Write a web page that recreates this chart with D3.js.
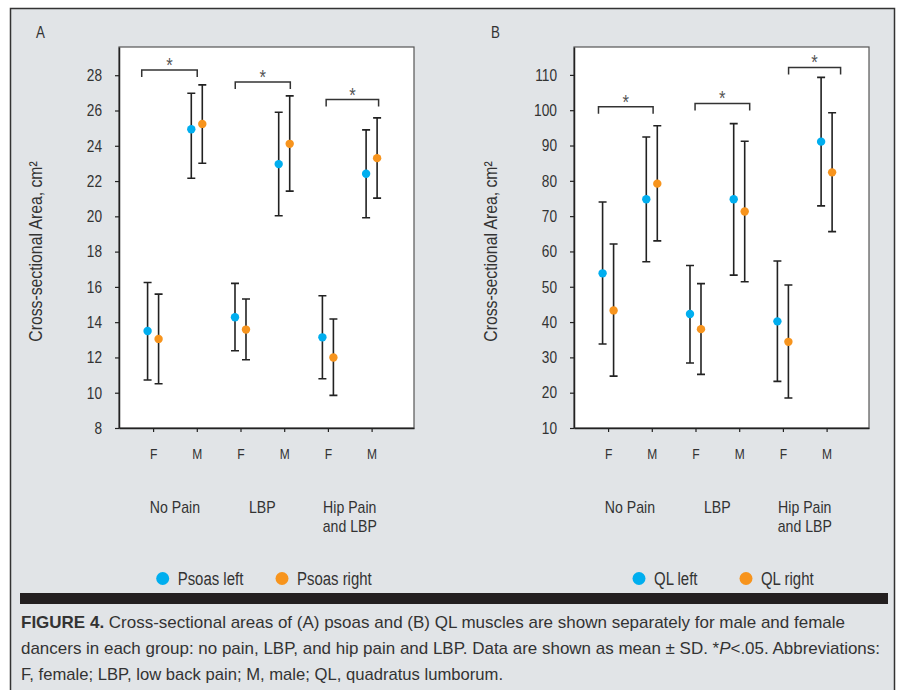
<!DOCTYPE html>
<html>
<head>
<meta charset="utf-8">
<script src="https://cdn.jsdelivr.net/npm/d3@7"></script>
<style>
  body { margin: 0; background: #fff; }
  svg text { font-family: "Liberation Sans", Arial, sans-serif; fill: #333; }
</style>
</head>
<body>
<svg id="fig" width="900" height="690"></svg>
<script>

// x categories (one F and one M per group)
var sexLabels = ["F", "M", "F", "M", "F", "M"];
var groupLabels = [["No Pain"], ["LBP"], ["Hip Pain", "and LBP"]];

// panel A - psoas, cm2 (mean, lower and upper end of the SD bar)
var psoasLeftMean  = [13.5, 24.94, 14.28, 22.96, 13.14, 22.41];
var psoasLeftLow   = [10.72, 22.16, 12.38, 20.03, 10.79, 19.92];
var psoasLeftHigh  = [16.25, 26.98, 16.2, 25.9, 15.5, 24.9];
var psoasRightMean = [13.05, 25.24, 13.58, 24.11, 12.0, 23.3];
var psoasRightLow  = [10.51, 23.01, 11.87, 21.43, 9.85, 21.03];
var psoasRightHigh = [15.59, 27.45, 15.31, 26.83, 14.18, 25.58];
var psoasTicks = [8, 10, 12, 14, 16, 18, 20, 22, 24, 26, 28];
// significance brackets: from/to in category index, level in cm2
var psoasBracketFrom  = [-0.26, 1.88, 3.96];
var psoasBracketTo    = [1.01, 3.14, 5.16];
var psoasBracketLevel = [28.3, 27.62, 26.62];

// panel B - quadratus lumborum, cm2
var qlLeftMean  = [53.8, 74.8, 42.3, 74.8, 40.2, 91.1];
var qlLeftLow   = [33.8, 57.1, 28.4, 53.3, 23.2, 72.9];
var qlLeftHigh  = [74.0, 92.4, 56.0, 96.2, 57.3, 109.3];
var qlRightMean = [43.3, 79.2, 38.0, 71.3, 34.4, 82.4];
var qlRightLow  = [24.7, 63.0, 25.2, 51.4, 18.5, 65.6];
var qlRightHigh = [62.1, 95.6, 50.9, 91.2, 50.5, 99.3];
var qlTicks = [10, 20, 30, 40, 50, 60, 70, 80, 90, 100, 110];
var qlBracketFrom  = [-0.22, 1.99, 4.13];
var qlBracketTo    = [1.03, 3.24, 5.32];
var qlBracketLevel = [101.0, 101.9, 112.1];

var leftColor = "#00aeef", rightColor = "#f7941d";
var plotW = 295, plotH = 381;
var squeeze = 0.83; // condensed look, no narrow font installed

var svg = d3.select("#fig");

// grey figure frame
svg.append("rect")
    .attr("x", 10.5).attr("y", 8.5)
    .attr("width", 884).attr("height", 700)
    .attr("fill", "#e1e4e7")
    .attr("stroke", "#333")
    .attr("stroke-width", 1.5);

function drawPanel(p) {
    var g = svg.append("g").attr("transform", "translate(" + p.left + ",47)");

    var x = d3.scaleLinear().domain([-0.78, 5.97]).range([0, plotW]);
    var y = d3.scaleLinear().domain(p.yDomain).range([plotH, 0]);

    g.append("rect")
        .attr("width", plotW).attr("height", plotH)
        .attr("fill", "#fff")
        .attr("stroke", "#555")
        .attr("stroke-width", 1.2);

    //panel letter
    svg.append("text")
        .attr("x", p.left - 83).attr("y", 38)
        .style("font-size", "16px")
        .text(p.letter);

    var yAxis = g.append("g")
        .call(d3.axisLeft(y).tickValues(p.ticks).tickSize(4).tickSizeOuter(0).tickPadding(13));
    var xAxis = g.append("g")
        .attr("transform", "translate(0," + plotH + ")")
        .call(d3.axisBottom(x).tickValues(d3.range(6))
            .tickFormat(function (i) { return sexLabels[i]; })
            .tickSize(4).tickSizeOuter(0).tickPadding(17));

    [yAxis, xAxis].forEach(function (a) {
        a.select(".domain").attr("stroke", "#222").attr("stroke-width", 1.5);
        a.selectAll(".tick line").attr("stroke", "#222").attr("stroke-width", 1.2);
        a.selectAll("text").attr("fill", "#333").attr("font-family", null);
    });
    yAxis.selectAll("text").style("font-size", "16.5px");
    xAxis.selectAll("text").style("font-size", "14.5px");

    // axis title
    g.append("text")
        .attr("transform", "translate(-77," + (plotH / 2 + 14) + ")rotate(-90)")
        .style("text-anchor", "middle")
        .style("font-size", "19px")
        .text("Cross-sectional Area, cm\u00b2");

    // group names under the F/M ticks
    groupLabels.forEach(function (lines, gi) {
        lines.forEach(function (l, li) {
            g.append("text")
                .attr("x", x(gi * 2 + 0.5))
                .attr("y", 466 + li * 18.5)
                .style("text-anchor", "middle")
                .style("font-size", "17px")
                .text(l);
        });
    });

    // brackets + stars
    p.bracketLevel.forEach(function (lev, i) {
        var x0 = x(p.bracketFrom[i]), x1 = x(p.bracketTo[i]), yy = y(lev);
        g.append("path")
            .attr("d", "M" + x0 + "," + (yy + 7) + "V" + yy + "H" + x1 + "V" + (yy + 7))
            .attr("fill", "none")
            .attr("stroke", "#333")
            .attr("stroke-width", 1.5);
        g.append("text")
            .attr("x", (x0 + x1) / 2).attr("y", yy + 2)
            .style("text-anchor", "middle")
            .style("font-size", "20px")
            .style("fill", "#555")
            .text("*");
    });

    // error bars and means
    p.series.forEach(function (s) {
        var pts = s.mean.map(function (m, i) {
            return { i: i, m: m, lo: s.low[i], hi: s.high[i] };
        });
        var sg = g.append("g");
        var cx = function (d) { return x(d.i) + s.shift; };

        sg.selectAll(".bar").data(pts).enter().append("path")
            .attr("d", function (d) {
                var c = cx(d);
                return "M" + c + "," + y(d.lo) + "V" + y(d.hi) +
                    "M" + (c - 4) + "," + y(d.lo) + "H" + (c + 4) +
                    "M" + (c - 4) + "," + y(d.hi) + "H" + (c + 4);
            })
            .attr("fill", "none")
            .attr("stroke", "#222")
            .attr("stroke-width", 1.6);

        sg.selectAll("circle").data(pts).enter().append("circle")
            .attr("cx", cx)
            .attr("cy", function (d) { return y(d.m); })
            .attr("r", 4.2)
            .attr("fill", s.color);
    });

    // legend
    p.legend.forEach(function (name, i) {
        var lx = p.legendX[i];
        svg.append("circle").attr("cx", lx).attr("cy", 578.5).attr("r", 6.5)
            .attr("fill", i === 0 ? leftColor : rightColor);
        svg.append("text").attr("x", lx + 15).attr("y", 585)
            .style("font-size", "18px")
            .text(name);
    });
}

drawPanel({
    left: 119, letter: "A", yDomain: [8, 29.6], ticks: psoasTicks,
    bracketFrom: psoasBracketFrom, bracketTo: psoasBracketTo, bracketLevel: psoasBracketLevel,
    series: [
        { mean: psoasLeftMean, low: psoasLeftLow, high: psoasLeftHigh, color: leftColor, shift: -5.5 },
        { mean: psoasRightMean, low: psoasRightLow, high: psoasRightHigh, color: rightColor, shift: 5.5 }
    ],
    legend: ["Psoas left", "Psoas right"], legendX: [162.7, 282]
});

drawPanel({
    left: 574, letter: "B", yDomain: [10, 117.9], ticks: qlTicks,
    bracketFrom: qlBracketFrom, bracketTo: qlBracketTo, bracketLevel: qlBracketLevel,
    series: [
        { mean: qlLeftMean, low: qlLeftLow, high: qlLeftHigh, color: leftColor, shift: -5.5 },
        { mean: qlRightMean, low: qlRightLow, high: qlRightHigh, color: rightColor, shift: 5.5 }
    ],
    legend: ["QL left", "QL right"], legendX: [639, 746]
});

// squeeze chart texts so they read like the condensed face of the original
svg.selectAll("text").each(function () {
    var w = this.getComputedTextLength();
    this.setAttribute("textLength", (w * squeeze).toFixed(1));
    this.setAttribute("lengthAdjust", "spacingAndGlyphs");
});

// caption
svg.append("rect").attr("x", 20).attr("y", 593).attr("width", 868).attr("height", 11).attr("fill", "#231f20");

var cap = svg.append("g").style("font-size", "17px");
var l1 = cap.append("text").attr("x", 21).attr("y", 628)
    .attr("textLength", 824).attr("lengthAdjust", "spacingAndGlyphs");
l1.append("tspan").style("font-weight", "bold").text("FIGURE 4.");
l1.append("tspan").text(" Cross-sectional areas of (A) psoas and (B) QL muscles are shown separately for male and female");
var l2 = cap.append("text").attr("x", 21).attr("y", 654)
    .attr("textLength", 859).attr("lengthAdjust", "spacingAndGlyphs");
l2.append("tspan").text("dancers in each group: no pain, LBP, and hip pain and LBP. Data are shown as mean \u00b1 SD. *");
l2.append("tspan").style("font-style", "italic").text("P");
l2.append("tspan").text("<.05. Abbreviations:");
cap.append("text").attr("x", 21).attr("y", 680)
    .attr("textLength", 482).attr("lengthAdjust", "spacingAndGlyphs")
    .text("F, female; LBP, low back pain; M, male; QL, quadratus lumborum.");

</script>
</body>
</html>
